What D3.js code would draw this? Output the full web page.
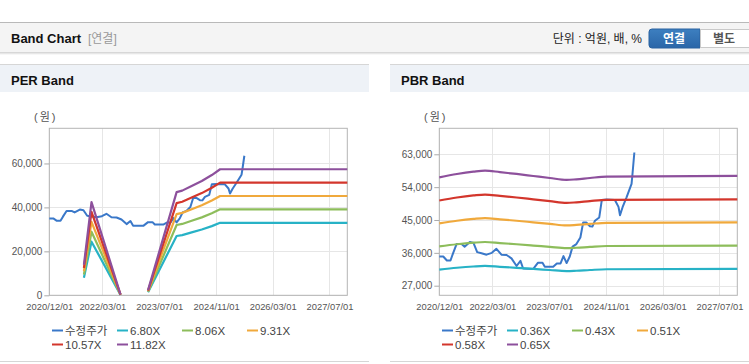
<!DOCTYPE html>
<html><head><meta charset="utf-8">
<script src="https://cdn.jsdelivr.net/npm/d3@7/dist/d3.min.js"></script>
<style>
html,body{margin:0;padding:0;background:#fff;}
svg{display:block;}
text{font-family:"Liberation Sans",Arial,"Noto Sans CJK KR",sans-serif;}
</style></head>
<body>
<svg id="c" width="749" height="364"></svg>
<script>
// ---------- DATA ----------
const xTickLabels = ["2020/12/01","2022/03/01","2023/07/01","2024/11/01","2026/03/01","2027/07/01"];
const perYTicks = [0, 20000, 40000, 60000];
const pbrYTicks = [27000, 36000, 45000, 54000, 63000];

const priceDates = ["2020-12-01","2021-01-04","2021-02-04","2021-03-07","2021-03-28","2021-04-28","2021-06-10","2021-07-06","2021-08-20","2021-09-20","2021-10-22","2021-11-28","2022-01-10","2022-02-25","2022-04-05","2022-05-18","2022-07-01","2022-08-12","2022-09-25","2022-10-28","2022-11-20","2023-02-15","2023-03-28","2023-05-05","2023-05-25","2023-08-05","2023-09-05","2023-10-07","2023-11-01","2023-11-28","2023-12-25","2024-01-18","2024-02-20","2024-03-25","2024-04-18","2024-05-15","2024-06-15","2024-07-06","2024-07-28","2024-09-03","2024-09-25","2024-11-06","2025-01-15","2025-02-15","2025-02-28","2025-03-22","2025-04-25","2025-06-07","2025-06-15","2025-07-01"];
const priceValues = [35000,35000,33900,33900,35800,38400,38400,37700,39000,38700,36200,35900,35500,36000,37100,35500,35400,34500,32400,33800,31700,31600,33300,33300,32200,32200,33100,33100,35100,33200,35000,37700,38400,40200,44300,44300,43300,43200,44800,45700,50500,50600,50500,48600,46300,48500,51200,54900,57600,63500];

const perBandDates = ["2021-09-24","2021-11-28","2022-08-04","2022-12-01","2023-03-28","2023-11-28","2024-01-15","2024-04-05","2024-07-01","2024-09-25","2024-12-05","2027-12-01"];
const per680  = [8000, 24410, 204, null, 1360, 27000, 27400, 28630, 29920, 31480, 33000, 33000];
const per806  = [9480, 28935, 242, null, 1612, 32000, 32480, 33930, 35460, 37320, 39110, 39110];
const per931  = [10950, 33420, 279, null, 1862, 36960, 37520, 39200, 40960, 43110, 45180, 45180];
const per1057 = [12430, 37950, 317, null, 2114, 41960, 42600, 44500, 46510, 48940, 51300, 51300];
const per1182 = [13900, 42430, 355, null, 2364, 46930, 47630, 49760, 52010, 54730, 57360, 57360];
const perLabels = ["6.80X","8.06X","9.31X","10.57X","11.82X"];

const pbrBandDates = ["2020-12-01","2021-05-01","2021-09-20","2021-12-28","2022-05-05","2022-09-25","2023-02-15","2023-07-07","2023-11-28","2024-02-20","2024-06-15","2024-11-06","2027-12-01"];
const pbr036 = [31400, 31910, 32260, 32410, 32180, 31910, 31600, 31300, 31000, 31100, 31300, 31500, 31600];
const pbr043 = [37760, 38360, 38780, 38970, 38690, 38360, 38000, 37630, 37270, 37390, 37630, 37880, 38000];
const pbr051 = [44080, 44800, 45300, 45520, 45190, 44800, 44370, 43940, 43510, 43650, 43940, 44230, 44370];
const pbr058 = [50340, 51160, 51720, 51970, 51600, 51160, 50670, 50180, 49690, 49850, 50180, 50500, 50670];
const pbr065 = [56690, 57610, 58250, 58530, 58110, 57610, 57060, 56510, 55970, 56150, 56510, 56880, 57060];
const pbrLabels = ["0.36X","0.43X","0.51X","0.58X","0.65X"];

const priceLabel = "수정주가";
const colors = ["#3a78c9","#27b2c6","#8dbd5b","#f0a93c","#d3362c","#8d509c"];

// ---------- DRAW ----------
const svg = d3.select("#c");
const parseISO = d3.timeParse("%Y-%m-%d");
const parseTick = d3.timeParse("%Y/%m/%d");

// Header
const defs = svg.append("defs");
const sh = defs.append("linearGradient").attr("id","sh").attr("x1",0).attr("x2",0).attr("y1",0).attr("y2",1);
sh.append("stop").attr("offset","0").attr("stop-color","#cfcfcf");
sh.append("stop").attr("offset","1").attr("stop-color","#ffffff");
const bg = defs.append("linearGradient").attr("id","btn").attr("x1",0).attr("x2",0).attr("y1",0).attr("y2",1);
bg.append("stop").attr("offset","0").attr("stop-color","#3d7fc0");
bg.append("stop").attr("offset","1").attr("stop-color","#2a66a8");

svg.append("rect").attr("x",0).attr("y",22).attr("width",749).attr("height",30).attr("fill","#f4f4f4");
svg.append("line").attr("x1",0).attr("x2",749).attr("y1",22.5).attr("y2",22.5).attr("stroke","#b9b9b9");
svg.append("rect").attr("x",0).attr("y",52).attr("width",749).attr("height",3).attr("fill","url(#sh)");
svg.append("text").attr("x",11).attr("y",43).attr("font-size",13).attr("font-weight","bold").attr("fill","#111").text("Band Chart");
svg.append("text").attr("x",88).attr("y",43).attr("font-size",12).attr("fill","#999").text("[연결]");
svg.append("text").attr("x",642).attr("y",43).attr("font-size",12).attr("text-anchor","end").attr("fill","#222").text("단위 : 억원, 배, %");
svg.append("path").attr("d","M700,29 H652 a3,3 0 0 0 -3,3 V45 a3,3 0 0 0 3,3 H700 Z").attr("fill","url(#btn)").attr("stroke","#2a62a0");
svg.append("text").attr("x",674).attr("y",43).attr("font-size",12).attr("font-weight","bold").attr("text-anchor","middle").attr("fill","#fff").text("연결");
svg.append("rect").attr("x",700.5).attr("y",29.5).attr("width",52).attr("height",18).attr("fill","#fff").attr("stroke","#c9c9c9");
svg.append("text").attr("x",724).attr("y",43).attr("font-size",12).attr("font-weight","bold").attr("text-anchor","middle").attr("fill","#555").text("별도");

function drawPanel(x0, w, title, yDomain, yTicks, bandDates, bands, bandLabels, curve) {
  const g = svg.append("g").attr("transform", `translate(${x0},0)`);
  g.append("rect").attr("x",0).attr("y",64).attr("width",w).attr("height",28).attr("fill","#eef2f7");
  g.append("line").attr("x1",0).attr("x2",w).attr("y1",64.5).attr("y2",64.5).attr("stroke","#d6d6d6");
  g.append("line").attr("x1",0).attr("x2",w).attr("y1",361.5).attr("y2",361.5).attr("stroke","#d6d6d6");
  g.append("text").attr("x",11).attr("y",85).attr("font-size",13).attr("font-weight","bold").attr("fill","#111").text(title);

  const L = 49.3, R = 347.3, T = 128.3, B = 295.3;
  const x = d3.scaleTime().domain([parseISO("2020-12-01"), parseISO("2027-12-01")]).range([L, R]);
  const y = d3.scaleLinear().domain(yDomain).range([B, T]);
  const xt = xTickLabels.map(parseTick);

  // grid
  g.append("g").selectAll("line.v").data(xt).join("line")
    .attr("x1", d => Math.round(x(d))+0.5).attr("x2", d => Math.round(x(d))+0.5)
    .attr("y1", T).attr("y2", B).attr("stroke","#e6e6e6");
  g.append("g").selectAll("line.h").data(yTicks).join("line")
    .attr("x1", L).attr("x2", R).attr("y1", d => Math.round(y(d))+0.5).attr("y2", d => Math.round(y(d))+0.5)
    .attr("stroke","#e6e6e6");
  g.append("rect").attr("x",L).attr("y",T).attr("width",R-L).attr("height",B-T)
    .attr("fill","none").attr("stroke","#b4b4b4");

  // axes
  const ya = g.append("g").attr("transform",`translate(${L},0)`)
    .call(d3.axisLeft(y).tickValues(yTicks).tickSize(5).tickPadding(2).tickFormat(d3.format(",")));
  ya.select(".domain").remove();
  ya.selectAll("line").attr("stroke","#aaa");
  ya.selectAll("text").attr("font-size",10).attr("fill","#555").attr("font-family",'"Liberation Sans",Arial,sans-serif');
  const xa = g.append("g").attr("transform",`translate(0,${B})`)
    .call(d3.axisBottom(x).tickValues(xt).tickSize(0).tickPadding(8).tickFormat((d,i)=>xTickLabels[i]));
  xa.select(".domain").remove();
  xa.selectAll("text").attr("font-size",9.4).attr("fill","#555").attr("font-family",'"Liberation Sans",Arial,sans-serif');

  const unit = g.append("text").attr("x",34).attr("y",121).attr("font-size",11).attr("fill","#555")
    .attr("font-family",'"Noto Sans CJK KR",sans-serif');
  unit.append("tspan").text("(");
  unit.append("tspan").attr("dx",2).text("원");
  unit.append("tspan").attr("dx",2).text(")");

  // price
  const priceData = priceDates.map((d,i)=>({d:parseISO(d), v:priceValues[i]}));
  const line = d3.line().defined(p => p.v != null).x(p => x(p.d)).y(p => y(p.v));
  g.append("path").datum(priceData).attr("d", line)
    .attr("fill","none").attr("stroke",colors[0]).attr("stroke-width",2).attr("stroke-linejoin","round");
  const bline = d3.line().defined(p => p.v != null).x(p => x(p.d)).y(p => y(p.v)).curve(curve);
  bands.forEach((arr, k) => {
    const data = bandDates.map((d,i)=>({d:parseISO(d), v:arr[i]}));
    g.append("path").datum(data).attr("d", bline)
      .attr("fill","none").attr("stroke",colors[k+1]).attr("stroke-width",2.2).attr("stroke-linejoin","round");
  });

  // legend
  const items = [priceLabel].concat(bandLabels);
  const pos = [[52,330],[117,330],[182,330],[247,330],[52,344],[117,344]];
  items.forEach((t,i) => {
    const [lx, ly] = pos[i];
    g.append("line").attr("x1",lx).attr("x2",lx+11).attr("y1",ly+0.5).attr("y2",ly+0.5)
      .attr("stroke",colors[i]).attr("stroke-width",2);
    g.append("text").attr("x",lx+13).attr("y",ly+4.5).attr("font-size",11.5).attr("fill","#444").text(t);
  });
}

drawPanel(0, 369, "PER Band", [0, 76000], perYTicks, perBandDates, [per680, per806, per931, per1057, per1182], perLabels, d3.curveLinear);
drawPanel(390, 359, "PBR Band", [24370, 70120], pbrYTicks, pbrBandDates, [pbr036, pbr043, pbr051, pbr058, pbr065], pbrLabels, d3.curveMonotoneX);
</script>
</body></html>
